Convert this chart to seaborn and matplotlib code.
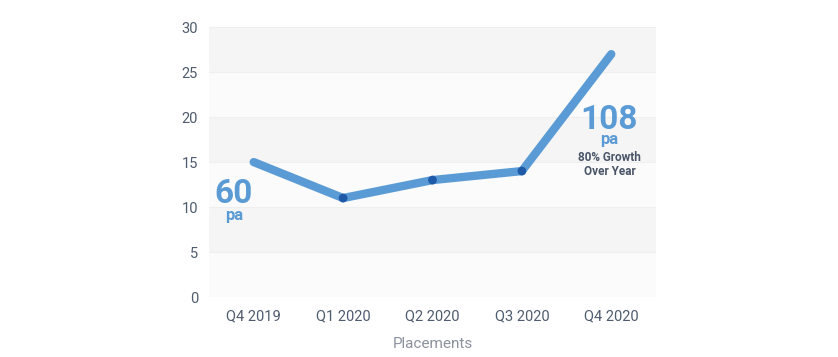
import numpy as np
import pandas as pd
import seaborn as sns
import matplotlib.pyplot as plt

quarters = ["Q4 2019", "Q1 2020", "Q2 2020", "Q3 2020", "Q4 2020"]
placements = [15, 11, 13, 14, 27]
y_ticks = [0, 5, 10, 15, 20, 25, 30]

df = pd.DataFrame({"quarter": quarters, "placements": placements})

sns.set_theme(style="white")
plt.rcParams['font.family'] = ['Roboto', 'DejaVu Sans']

fig = plt.figure(figsize=(8.38, 3.57), dpi=100)
ax = fig.add_axes([0.2494, 0.168, 0.5334, 0.756])

# alternating background bands
for i in range(len(y_ticks) - 1):
    col = "#f5f5f5" if i % 2 == 1 else "#fbfbfb"
    ax.axhspan(y_ticks[i], y_ticks[i + 1], color=col, zorder=0, lw=0)
for t in y_ticks:
    ax.axhline(t, color="#efefef", lw=0.8, zorder=0.5)

sns.lineplot(data=df, x="quarter", y="placements", ax=ax, color="#5b9bd5",
             lw=6, solid_capstyle="round", zorder=2)
inner = df.iloc[1:-1]
sns.scatterplot(data=inner, x="quarter", y="placements", ax=ax, color="#1e5aa8",
                s=40, edgecolor="none", zorder=3)

ax.set_xlim(-0.5, 4.5)
ax.set_ylim(0, 30)
ax.set_yticks(y_ticks)
ax.tick_params(axis="both", length=0, labelsize=10.5, labelcolor="#4f5b6e")
ax.tick_params(axis="x", pad=9)
ax.tick_params(axis="y", pad=8)
ax.set_xlabel("Placements", fontsize=11, color="#8a929e", labelpad=10)
ax.set_ylabel("")
for s in ax.spines.values():
    s.set_visible(False)

blue = "#5b9bd5"
ax.text(-0.22, 10.4, "60", fontsize=24, fontweight="bold", color=blue,
        ha="center", va="baseline", zorder=4)
ax.text(-0.22, 9.9, "pa", fontsize=12, fontweight="bold", color=blue,
        ha="center", va="top", zorder=4)
ax.text(3.98, 18.7, "108", fontsize=24, fontweight="bold", color=blue,
        ha="center", va="baseline", zorder=4)
ax.text(3.98, 18.3, "pa", fontsize=12, fontweight="bold", color=blue,
        ha="center", va="top", zorder=4)
ax.text(3.98, 15.5, "80% Growth", fontsize=8.5, fontweight="bold", color="#4a5568",
        ha="center", va="center", zorder=4)
ax.text(3.98, 13.9, "Over Year", fontsize=8.5, fontweight="bold", color="#4a5568",
        ha="center", va="center", zorder=4)

plt.savefig("out.png", dpi=100)
